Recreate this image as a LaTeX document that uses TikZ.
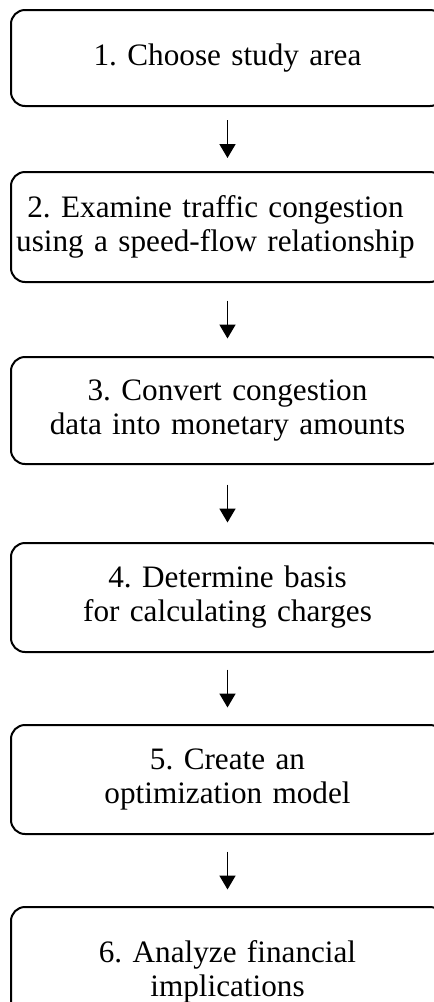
\documentclass[tikz,border=0pt]{standalone}
\usepackage{fontspec}
\setmainfont{Liberation Serif}
\usetikzlibrary{arrows.meta,positioning}

\begin{document}
\frenchspacing
\begin{tikzpicture}[>={Triangle[width=8pt,length=7pt]},auto,line width=0.9pt]
		\tikzstyle{stage}=[draw,line width=1pt,rounded corners=7pt,align=center,
			text width=212pt,inner xsep=2.25pt,inner ysep=0pt,
			font=\fontsize{15.6}{17}\selectfont]

		\useasboundingbox (0,0) rectangle (217pt,-501pt);
		\clip (0,0) rectangle (217pt,-501pt);

		\node[stage,minimum height=48pt] (1) at (113.75pt,-29pt) {1. Choose study area};
		\node[stage,minimum height=55pt] (2) [below=32pt of 1] {\hspace*{-12pt}2. Examine traffic congestion\\\hspace*{-12pt}using a speed-flow relationship};
		\node[stage,minimum height=53.5pt] (3) [below=36.5pt of 2] {3. Convert congestion\\data into monetary amounts};
		\node[stage,minimum height=54.5pt] (4) [below=38.5pt of 3] {4. Determine basis\\for calculating charges};
		\node[stage,minimum height=54.5pt] (5) [below=35.5pt of 4] {5. Create an\\optimization model};
		\node[stage,minimum height=54.5pt] (6) [below=35.5pt of 5] {\rule{0pt}{21pt}6. Analyze financial\\implications};

		\path[->]
		(1) edge [shorten <=6.5pt,shorten >=6.5pt] (2)
		(2) edge [shorten <=8.75pt,shorten >=8.75pt] (3)
		(3) edge [shorten <=9.75pt,shorten >=9.75pt] (4)
		(4) edge [shorten <=8.25pt,shorten >=8.25pt] (5)
		(5) edge [shorten <=8.25pt,shorten >=8.25pt] (6);
	\end{tikzpicture}
\end{document}
